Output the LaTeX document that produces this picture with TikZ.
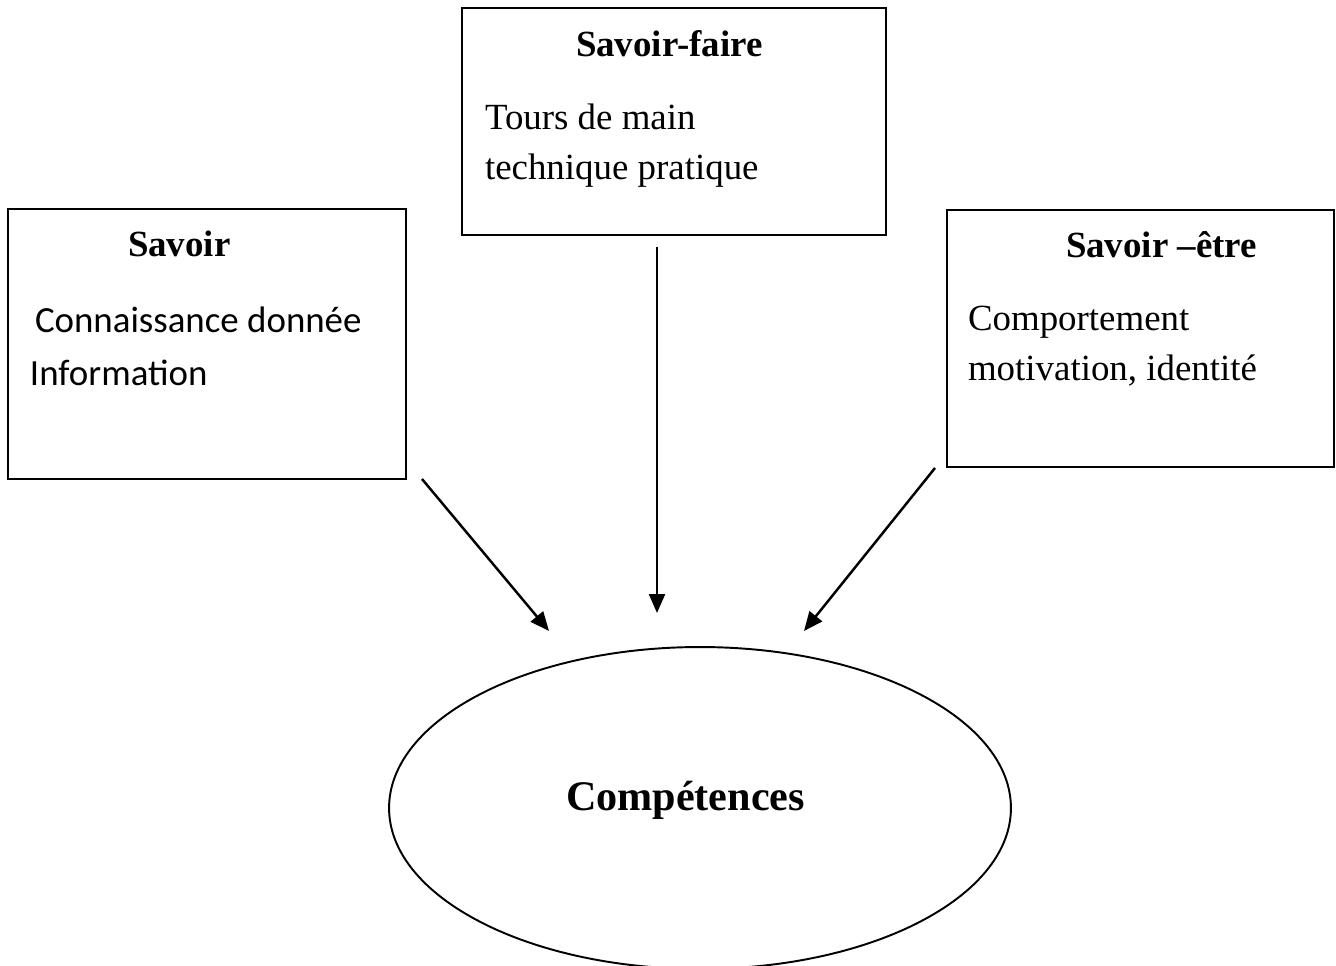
\documentclass[tikz,border=0pt]{standalone}
\usepackage{fontspec}
\setmainfont{Liberation Serif}
\newfontfamily\calibri{Carlito}
\usetikzlibrary{arrows.meta,calc,shapes.geometric}

\begin{document}
\begin{tikzpicture}[
  x=0.02cm,y=-0.02cm,
  every node/.style={inner sep=0pt,outer sep=0pt},
  boite/.style={draw=black,line width=1pt,rectangle},
  titre/.style={anchor=base west,font=\fontsize{21}{25}\selectfont\bfseries},
  texte/.style={anchor=base west,font=\fontsize{21}{25}\selectfont},
  flow/.style={-{Triangle[length=0.38cm,width=0.32cm]},line width=1.4pt,black}
]
\useasboundingbox (0,0) rectangle (1336,966);

% Boxes
\node[boite,minimum width=8.48cm,minimum height=4.54cm] (sf) at (674,121.5) {};
\node[boite,minimum width=7.96cm,minimum height=5.4cm] (savoir) at (207,344) {};
\node[boite,minimum width=7.74cm,minimum height=5.14cm] (se) at (1140.5,338.5) {};

% Ellipse
\node[ellipse,draw=black,line width=1.1pt,minimum width=12.44cm,minimum height=6.44cm] (comp) at (700,808) {};

% Texts
\node[titre] (sftitre) at (576,57) {Savoir-faire};
\node[texte] (sfl1) at (485,130) {Tours de main};
\node[texte] (sfl2) at (485,180) {technique pratique};

\node[titre] (stitre) at (128,257) {Savoir};
\node[texte,font=\fontsize{21}{25}\selectfont\calibri] (sl1) at (35,333) {Connaissance donnée};
\node[texte,font=\fontsize{21}{25}\selectfont\calibri] (sl2) at (30,385) {Information};

\node[titre] (setitre) at (1066,258) {Savoir –être};
\node[texte] (sel1) at (968,331) {Comportement};
\node[texte] (sel2) at (968,380) {motivation, identité};

\node[anchor=base west,font=\fontsize{24}{28}\selectfont\bfseries] (comptexte) at (566,810) {Compétences};

% Arrow ends
\coordinate (depL) at ($(savoir.south east)+(16,0)$);
\coordinate (depM) at ($(sf.south)+(-17,12)$);
\coordinate (depR) at ($(se.south west)+(-12,1)$);
\coordinate (finL) at ($(comp.center)+(-151,-177)$);
\coordinate (finM) at ($(comp.center)+(-43,-195)$);
\coordinate (finR) at ($(comp.center)+(104,-177)$);

% Arrows
\draw[flow] (depL) -- (finL);
\draw[flow] (depM) -- (finM);
\draw[flow] (depR) -- (finR);
\end{tikzpicture}
\end{document}
